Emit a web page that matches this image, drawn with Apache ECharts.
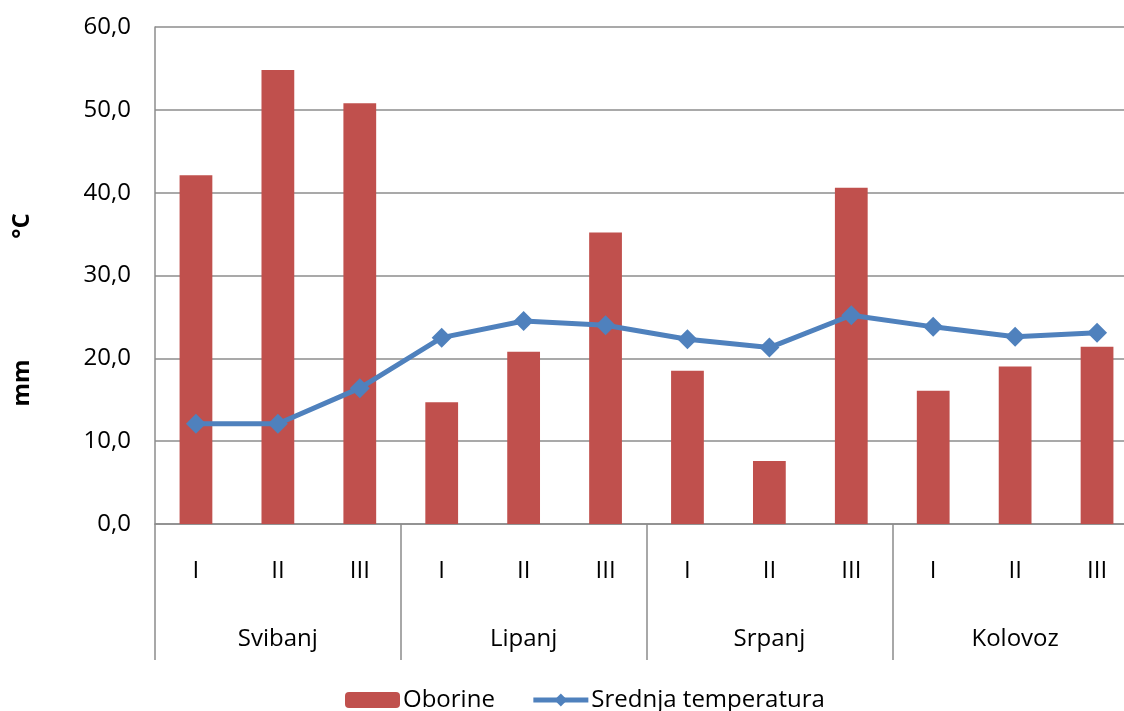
<!DOCTYPE html>
<html>
<head>
<meta charset="utf-8">
<script src="https://cdn.jsdelivr.net/npm/echarts@6/dist/echarts.min.js"></script>
<style>
  html, body { margin: 0; padding: 0; background: #fff; }
  #chart { width: 1124px; height: 711px; }
</style>
</head>
<body>
<div id="chart"></div>
<script>
// dekade i mjeseci
const dekade = ['I', 'II', 'III', 'I', 'II', 'III', 'I', 'II', 'III', 'I', 'II', 'III'];
const mjeseci = ['Svibanj', 'Lipanj', 'Srpanj', 'Kolovoz'];

// oborine (mm) i srednja temperatura (°C)
const oborine = [42.1, 54.8, 50.8, 14.7, 20.8, 35.2, 18.5, 7.6, 40.6, 16.1, 19.0, 21.4];
const temperatura = [12.1, 12.1, 16.4, 22.5, 24.5, 24.0, 22.3, 21.3, 25.2, 23.8, 22.6, 23.1];

const yTicks = { min: 0, max: 60, interval: 10 };

const FONT = '"Open Sans", "Noto Sans", sans-serif';
const GRAY = '#8c8c8c';
const RED = '#C0504D';
const BLUE = '#4F81BD';

const chart = echarts.init(document.getElementById('chart'));

const options = {
    animation: false,
    backgroundColor: '#fff',
    textStyle: { fontFamily: FONT },
    grid: {
        left: 155,
        top: 27,
        width: 983,
        height: 497,
        outerBoundsMode: 'none'
    },
    legend: {
        top: 688,
        left: 345,
        padding: 0,
        itemGap: 36,
        itemWidth: 55,
        itemHeight: 16,
        textStyle: { fontSize: 24, color: '#000', fontFamily: FONT, padding: [0, 0, 0, -2] },
        data: [
            { name: 'Oborine', itemStyle: { color: RED, borderWidth: 0 } },
            { name: 'Srednja temperatura', lineStyle: { color: BLUE, width: 5 }, itemStyle: { color: BLUE } }
        ]
    },
    xAxis: [{
        type: 'category',
        data: dekade,
        position: 'bottom',
        axisLine: { lineStyle: { color: GRAY, width: 1.5 } },
        axisTick: { show: false },
        axisLabel: { color: '#000', fontSize: 24, margin: 35, fontFamily: FONT, interval: 0 }
    }, {
        type: 'category',
        data: mjeseci,
        position: 'bottom',
        axisLine: { show: false },
        axisTick: { show: true, length: 136, interval: 0, lineStyle: { color: GRAY, width: 1.5 } },
        axisLabel: { color: '#000', fontSize: 24, margin: 103, fontFamily: FONT, interval: 0 }
    }],
    yAxis: {
        type: 'value',
        min: yTicks.min,
        max: yTicks.max,
        interval: yTicks.interval,
        axisLine: { show: true, lineStyle: { color: GRAY, width: 1.5 } },
        axisTick: { show: false },
        splitLine: { lineStyle: { color: GRAY, width: 1.5 } },
        axisLabel: {
            color: '#000',
            fontSize: 24,
            margin: 24,
            fontFamily: FONT,
            formatter: (v) => v.toFixed(1).replace('.', ',')
        }
    },
    series: [{
        name: 'Oborine',
        type: 'bar',
        xAxisIndex: 0,
        data: oborine,
        barWidth: '40%',
        itemStyle: { color: RED }
    }, {
        name: 'Srednja temperatura',
        type: 'line',
        xAxisIndex: 0,
        data: temperatura,
        symbol: 'diamond',
        symbolSize: 20,
        lineStyle: { color: BLUE, width: 5 },
        itemStyle: { color: BLUE }
    }],
    graphic: [{
        type: 'text',
        x: 22,
        y: 226,
        rotation: Math.PI / 2,
        style: {
            text: '°C',
            fill: '#000',
            font: 'bold 24px ' + FONT,
            textAlign: 'center',
            textVerticalAlign: 'middle'
        }
    }, {
        type: 'text',
        x: 22,
        y: 383,
        rotation: Math.PI / 2,
        style: {
            text: 'mm',
            fill: '#000',
            font: 'bold 24px ' + FONT,
            textAlign: 'center',
            textVerticalAlign: 'middle'
        }
    }]
};

chart.setOption(options);
</script>
</body>
</html>
